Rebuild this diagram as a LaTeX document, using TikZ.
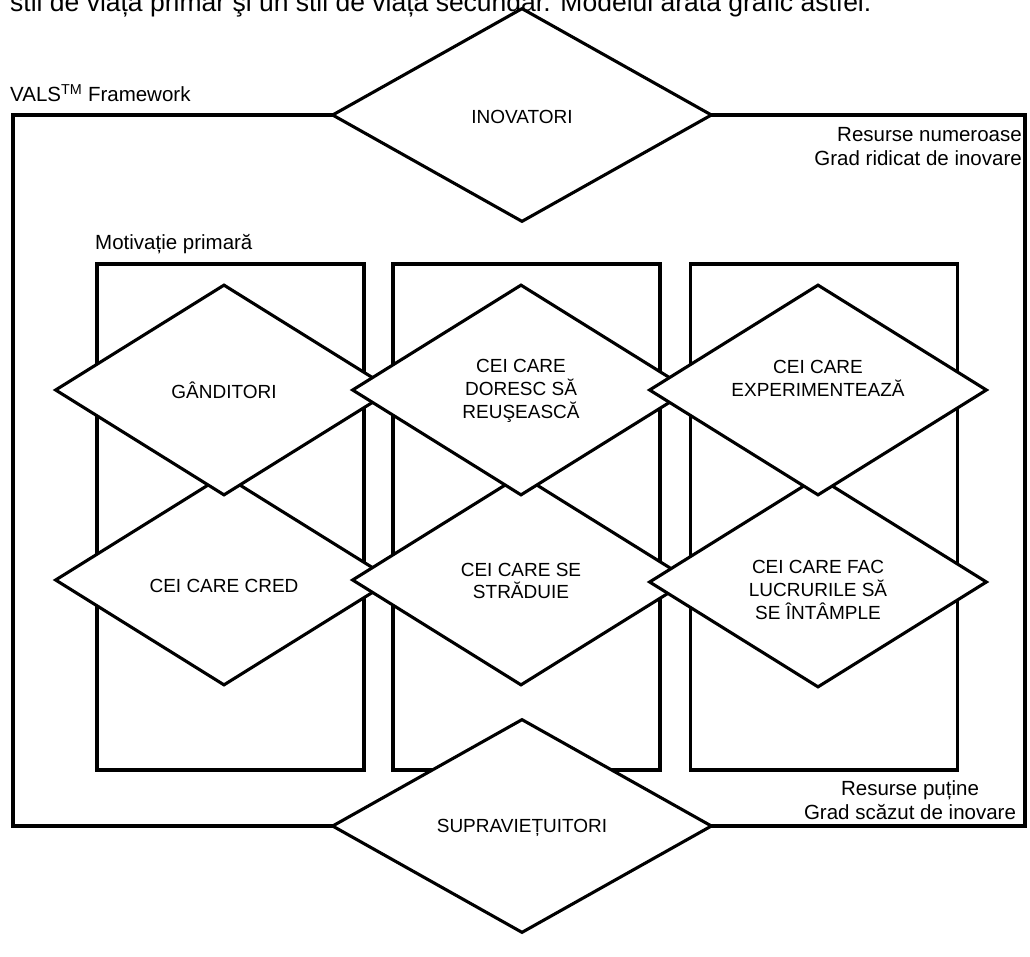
\documentclass[tikz,border=0pt]{standalone}
\usepackage{fontspec}
\setmainfont{Liberation Sans}
\usetikzlibrary{shapes.geometric}
\begin{document}
\begin{tikzpicture}[x=1pt,y=-1pt,
  ln/.style={line width=3.1pt, line join=miter},
  dia/.style={diamond, draw, ln, fill=white, minimum width=338pt, minimum height=211pt,
    inner sep=0pt},
  bigdia/.style={dia, minimum width=380pt, minimum height=214pt},
  dlbl/.style={inner sep=0pt, align=center, font=\fontsize{19}{22.8}\selectfont},
  colbox/.style={draw, ln, minimum width=267pt, minimum height=506pt, inner sep=0pt},
  txt/.style={inner sep=0pt, font=\fontsize{20.5}{24}\selectfont}
]
\useasboundingbox[fill=white] (0,0) rectangle (1030,957);
% partially visible line of the surrounding page
\node[txt, anchor=base west, font=\fontsize{26.5}{30}\selectfont] (intro) at (10,12)
  {stil de viață primar şi un stil de viață secundar. Modelul arată grafic astfel:};
% outer frame
\node[draw, ln, minimum width=1012pt, minimum height=711pt, inner sep=0pt] (frame) at (519,470.5) {};
% columns
\node[colbox] (c1) at (230.5,517) {};
\node[colbox] (c2) at (526.5,517) {};
\node[colbox] (c3) at (824,517) {};
% second row of diamonds
\node[dia] (d21) at (224,580) {};
\node[dia] (d22) at (521,580) {};
\node[dia] (d23) at (818,582) {};
% first row of diamonds
\node[dia] (d11) at (224,390) {};
\node[dia] (d12) at (521,390) {};
\node[dia] (d13) at (818,390) {};
% top and bottom diamonds
\node[bigdia] (top) at (522,115) {};
\node[bigdia] (bot) at (522,826) {};
% diamond texts
\node[dlbl] (t11) at (d11) {GÂNDITORI};
\node[dlbl] (t12) at ([yshift=-1pt]d12) {CEI CARE\\DORESC SĂ\\REUŞEASCĂ};
\node[dlbl] (t13) at ([yshift=12pt]d13) {CEI CARE\\EXPERIMENTEAZĂ};
\node[dlbl] (t21) at ([yshift=-6pt]d21) {CEI CARE CRED};
\node[dlbl] (t22) at ([yshift=-1pt]d22) {CEI CARE SE\\STRĂDUIE};
\node[dlbl] (t23) at ([yshift=-8pt]d23) {CEI CARE FAC\\LUCRURILE SĂ\\SE ÎNTÂMPLE};
\node[dlbl] (ttop) at ([yshift=-2pt]top) {INOVATORI};
\node[dlbl] (tbot) at ([yshift=-2pt]bot) {SUPRAVIEȚUITORI};
% labels
\node[txt, anchor=base west] (vals) at (10,102) {VALS\textsuperscript{TM} Framework};
\node[txt, anchor=base west] (motiv) at (95,250) {Motivație primară};
\node[txt, anchor=north east, align=right] (rich) at (1022,127) {Resurse numeroase\\Grad ridicat de inovare};
\node[txt, anchor=base, align=center] (poor) at (910,819) {Resurse puține\\Grad scăzut de inovare};
\end{tikzpicture}
\end{document}
